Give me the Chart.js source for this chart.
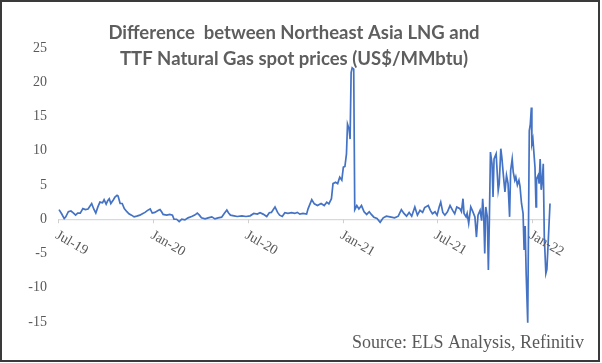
<!DOCTYPE html>
<html>
<head>
<meta charset="utf-8">
<script src="https://cdn.jsdelivr.net/npm/chart.js@4.4.1/dist/chart.umd.min.js"></script>
<style>
  html, body { margin: 0; padding: 0; background: #fff; }
  canvas { display: block; }
</style>
</head>
<body>
<canvas id="spread" width="602" height="363"></canvas>
<script>
const TITLE_LINES = ['Difference  between Northeast Asia LNG and', 'TTF Natural Gas spot prices (US$/MMbtu)'];
const SOURCE = 'Source: ELS Analysis, Refinitiv';

const tickDates = ['2019-07-01', '2020-01-01', '2020-07-01', '2021-01-01', '2021-07-01', '2022-01-01'];
const tickLabels = ['Jul-19', 'Jan-20', 'Jul-20', 'Jan-21', 'Jul-21', 'Jan-22'];

// spot price difference, US$/MMbtu
const dates = [
  '2019-07-03','2019-07-08','2019-07-13','2019-07-16','2019-07-21','2019-07-26','2019-07-31','2019-08-04',
  '2019-08-08','2019-08-13','2019-08-18','2019-08-23','2019-08-28','2019-09-04','2019-09-08','2019-09-12',
  '2019-09-16','2019-09-20','2019-09-25','2019-09-28','2019-10-02','2019-10-05','2019-10-08','2019-10-11',
  '2019-10-16','2019-10-19','2019-10-23','2019-10-25','2019-10-29','2019-11-02','2019-11-06','2019-11-11',
  '2019-11-15','2019-11-20','2019-11-25','2019-11-30','2019-12-06','2019-12-11','2019-12-16','2019-12-21',
  '2019-12-26','2019-12-30','2020-01-04','2020-01-11','2020-01-14','2020-01-17','2020-01-20','2020-01-27',
  '2020-02-02','2020-02-07','2020-02-10','2020-02-15','2020-02-20','2020-02-25','2020-03-02','2020-03-08',
  '2020-03-15','2020-03-21','2020-03-26','2020-03-30','2020-04-03','2020-04-10','2020-04-16','2020-04-23',
  '2020-04-29','2020-05-05','2020-05-12','2020-05-17','2020-05-22','2020-05-25','2020-05-29','2020-06-05',
  '2020-06-11','2020-06-20','2020-06-28','2020-07-06','2020-07-13','2020-07-20','2020-07-25','2020-07-31',
  '2020-08-07','2020-08-12','2020-08-16','2020-08-23','2020-08-28','2020-09-01','2020-09-06','2020-09-11',
  '2020-09-17','2020-09-24','2020-09-30','2020-10-05','2020-10-10','2020-10-16','2020-10-23','2020-10-26',
  '2020-11-02','2020-11-07','2020-11-13','2020-11-20','2020-11-26','2020-12-01','2020-12-05','2020-12-10',
  '2020-12-13','2020-12-18','2020-12-22','2020-12-26','2020-12-30','2021-01-02','2021-01-05','2021-01-08',
  '2021-01-10','2021-01-13','2021-01-15','2021-01-17','2021-01-19','2021-01-22','2021-01-24','2021-01-28',
  '2021-02-01','2021-02-06','2021-02-11','2021-02-16','2021-02-21','2021-02-25','2021-03-02','2021-03-08',
  '2021-03-14','2021-03-20','2021-03-26','2021-04-02','2021-04-11','2021-04-18','2021-04-24','2021-04-29',
  '2021-05-04','2021-05-09','2021-05-14','2021-05-20','2021-05-25','2021-05-30','2021-06-04','2021-06-08',
  '2021-06-15','2021-06-19','2021-06-23','2021-06-28','2021-07-02','2021-07-06','2021-07-09','2021-07-13',
  '2021-07-17','2021-07-22','2021-07-27','2021-08-01','2021-08-05','2021-08-09','2021-08-15','2021-08-18',
  '2021-08-21','2021-08-23','2021-08-27','2021-08-29','2021-09-01','2021-09-05','2021-09-08','2021-09-13',
  '2021-09-16','2021-09-19','2021-09-23','2021-09-26','2021-09-28','2021-09-30','2021-10-02','2021-10-04',
  '2021-10-07','2021-10-09','2021-10-11','2021-10-13','2021-10-16','2021-10-18','2021-10-20','2021-10-24',
  '2021-10-26','2021-10-28','2021-10-30','2021-11-02','2021-11-04','2021-11-07','2021-11-10','2021-11-13',
  '2021-11-16','2021-11-19','2021-11-21','2021-11-24','2021-11-26','2021-11-29','2021-12-01','2021-12-04',
  '2021-12-07','2021-12-09','2021-12-12','2021-12-15','2021-12-17','2021-12-19','2021-12-21','2021-12-24',
  '2021-12-27','2021-12-29','2021-12-31','2022-01-01','2022-01-03','2022-01-07','2022-01-09','2022-01-10',
  '2022-01-13','2022-01-15','2022-01-17','2022-01-19','2022-01-21','2022-01-23','2022-01-25','2022-01-28',
  '2022-01-30','2022-02-02','2022-02-05'
];
const spread = [
  1.4, 0.8, 0.1, 0.35, 1.1, 1.2, 0.9, 0.6,
  0.9, 0.9, 1.55, 1.4, 1.5, 2.3, 1.5, 0.9,
  1.8, 2.5, 2.4, 2.85, 2.2, 2.7, 3.0, 2.3,
  2.85, 3.25, 3.5, 3.4, 2.3, 2.3, 1.55, 1.1,
  0.8, 0.6, 0.35, 0.45, 0.6, 0.8, 1.0, 1.3,
  1.5, 0.9, 1.0, 1.3, 1.4, 1.1, 0.7, 0.6,
  0.7, 0.6, 0.0, 0.0, -0.35, 0.0, -0.1, 0.2,
  0.4, 0.6, 0.9, 0.6, 0.2, 0.05, 0.2, 0.35,
  0.05, 0.2, 0.3, 0.85, 1.35, 0.95, 0.6, 0.5,
  0.4, 0.5, 0.4, 0.5, 0.85, 0.75, 0.95, 0.75,
  0.4, 0.95, 1.0, 1.8, 1.0, 0.6, 0.4, 0.95,
  0.85, 0.95, 0.85, 1.0, 0.75, 0.85, 0.75, 1.55,
  2.85, 2.25, 2.0, 2.3, 2.0, 2.5, 2.25, 3.0,
  5.2, 5.4, 5.2, 6.15, 5.7, 7.6, 7.7, 9.55,
  13.9, 13.2, 11.7, 21.4, 22.1, 21.9, 1.4, 2.0,
  1.5, 2.0, 1.1, 0.7, 1.1, 0.7, 0.3, 0.1,
  -0.45, 0.2, 0.45, 0.35, 0.2, 0.45, 1.4, 0.85,
  0.45, 1.0, 0.45, 1.8, 0.6, 1.3, 1.0, 1.7,
  2.0, 1.3, 0.8, 1.1, 0.6, 1.8, 2.5, 1.0,
  0.6, 1.1, 2.0, 1.3, 0.8, 1.8, 1.55, 1.1,
  3.0, 0.85, 0.35, 0.85, -0.6, 1.8, 1.3, 0.35,
  -2.6, 0.6, 1.3, -0.2, 3.0, 0.6, -5.0, 1.8,
  0.35, -7.4, 0.1, 9.8, 8.1, 3.25, 8.8, 9.55,
  6.9, 4.2, 5.2, 10.3, 9.05, 6.4, 4.0, 6.4,
  5.2, 0.35, 7.1, 8.8, 6.9, 5.7, 6.2, 5.0,
  5.7, 4.85, 2.3, 0.85, -4.5, -1.0, -8.0, -15.1,
  12.9, 13.9, 16.3, 11.0, 11.7, 7.6, 1.8, 5.9,
  6.4, 5.2, 8.8, 4.3, 5.7, 8.1, -2.6, -7.9,
  -7.3, -2.6, 2.3
];

const LINE = '#4472c4';
const TEXT = '#595959';
const START = Date.UTC(2019, 6, 1);

function dayOf(s) {
  const [y, m, d] = s.split('-').map(Number);
  return (Date.UTC(y, m - 1, d) - START) / 864e5;
}

const points = dates.map((d, i) => ({ x: dayOf(d), y: spread[i] }));

const decorPlugin = {
  id: 'decor',
  beforeDraw(chart) {
    const ctx = chart.ctx;
    ctx.save();
    ctx.fillStyle = '#fff';
    ctx.fillRect(0, 0, chart.width, chart.height);
    ctx.restore();
  },
  afterDraw(chart) {
    const ctx = chart.ctx;
    const xs = chart.scales.x, ys = chart.scales.y;
    const y0 = ys.getPixelForValue(0);
    ctx.save();

    // x-axis tick marks and slanted labels sitting on the zero line
    ctx.strokeStyle = '#d0d0d0';
    ctx.lineWidth = 1;
    ctx.fillStyle = TEXT;
    ctx.font = '14px "Liberation Serif", serif';
    ctx.textAlign = 'left';
    ctx.textBaseline = 'top';
    tickDates.forEach((d, i) => {
      const px = xs.getPixelForValue(dayOf(d));
      ctx.beginPath();
      ctx.moveTo(Math.round(px) + 0.5, y0);
      ctx.lineTo(Math.round(px) + 0.5, y0 + 4);
      ctx.stroke();
      ctx.save();
      ctx.translate(px + 2, y0 + 9);
      ctx.rotate(Math.PI / 6);
      ctx.fillText(tickLabels[i], 0, 0);
      ctx.restore();
    });

    // title
    ctx.fillStyle = '#5e5e5e';
    ctx.font = 'bold 18.5px Lato, sans-serif';
    ctx.textAlign = 'center';
    ctx.textBaseline = 'middle';
    ctx.fillText(TITLE_LINES[0], 294, 33);
    ctx.fillText(TITLE_LINES[1], 294, 59);

    // source note
    ctx.fillStyle = TEXT;
    ctx.font = '18px "Liberation Serif", serif';
    ctx.textAlign = 'right';
    ctx.fillText(SOURCE, 584, 343);

    // frame
    ctx.strokeStyle = '#3a3a3a';
    ctx.lineWidth = 2;
    ctx.strokeRect(1, 1, 598, 360);
    ctx.restore();
  },
};

new Chart(document.getElementById('spread'), {
  type: 'line',
  data: {
    datasets: [{
      label: 'NE Asia LNG - TTF',
      data: points,
      parsing: false,
      borderColor: LINE,
      borderWidth: 1.7,
      pointRadius: 0,
      tension: 0,
      clip: false,
    }],
  },
  options: {
    responsive: false,
    animation: false,
    devicePixelRatio: 1,
    layout: { padding: { left: 0, right: 52, top: 48, bottom: 41 } },
    plugins: {
      legend: { display: false },
      tooltip: { enabled: false },
    },
    scales: {
      x: { type: 'linear', display: false, min: 0, max: 950 },
      y: {
        min: -15,
        max: 25,
        ticks: {
          stepSize: 5,
          padding: 11,
          color: TEXT,
          font: { family: '"Liberation Serif", serif', size: 14 },
        },
        grid: {
          drawTicks: false,
          tickLength: 0,
          lineWidth: 1.2,
          color: c => (c.tick && c.tick.value === 0 ? '#d9d9d9' : 'rgba(0,0,0,0)'),
        },
        border: { display: false },
        afterFit: s => { s.width = 58; },
      },
    },
  },
  plugins: [decorPlugin],
});
</script>
</body>
</html>
